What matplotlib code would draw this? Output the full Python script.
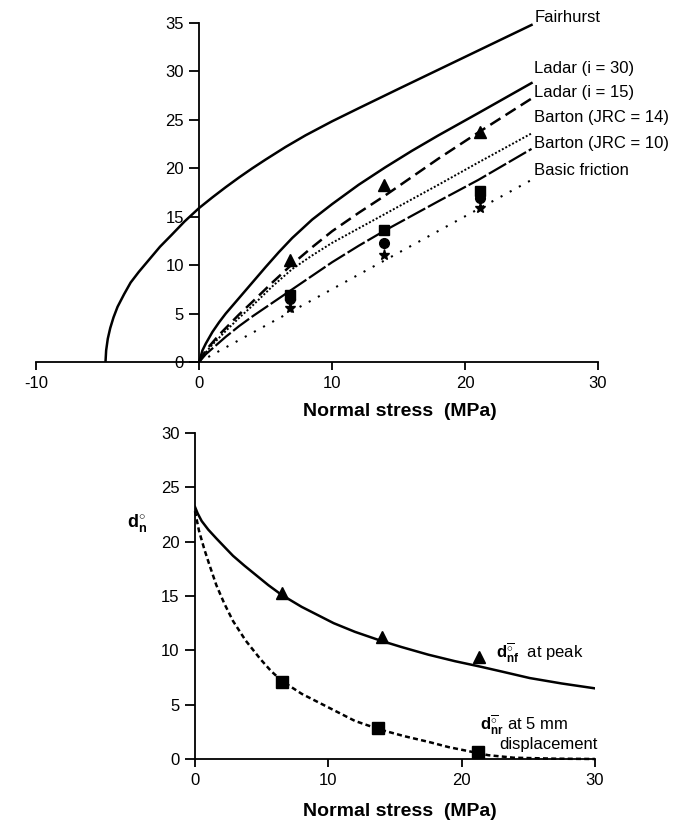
import numpy as np
import matplotlib
matplotlib.use('Agg')
import matplotlib.pyplot as plt

plt.rcParams['font.family'] = ['Liberation Sans', 'DejaVu Sans']
plt.rcParams['mathtext.fontset'] = 'custom'
plt.rcParams['mathtext.rm'] = 'Liberation Sans'
plt.rcParams['mathtext.bf'] = 'Liberation Sans:bold'
plt.rcParams['mathtext.it'] = 'Liberation Sans:italic'

# ---- top chart: shear strength vs normal stress ----
fair_x = [-5.74, -5.7, -5.6, -5.45, -5.25, -5.0, -4.6, -4.2, -3.7, -3.1, -2.4, -1.7, -0.9,
          0, 1, 2, 3, 4, 5, 6.5, 8, 10, 12, 15, 17.5, 20, 22.5, 25]
fair_y = [0, 1.2, 2.4, 3.5, 4.6, 5.7, 7.0, 8.2, 9.3, 10.5, 11.9, 13.1, 14.5,
          15.9, 17.0, 18.05, 19.05, 20.0, 20.9, 22.2, 23.4, 24.85, 26.2, 28.2, 29.85, 31.5, 33.15, 34.8]

lad30_x = [0, 0.25, 0.5, 1, 1.5, 2, 2.5, 3, 4, 5, 6, 7, 8.5, 10, 12, 14, 16, 18, 21, 25]
lad30_y = [0, 1.2, 1.9, 3.1, 4.1, 5.0, 5.8, 6.6, 8.2, 9.8, 11.35, 12.8, 14.7, 16.3, 18.3, 20.1, 21.8, 23.4, 25.7, 28.8]

lad15_x = [0, 0.5, 1, 1.5, 2, 3, 4, 5.5, 7, 8.5, 10, 12, 14, 16, 18, 21, 25]
lad15_y = [0, 1.2, 2.0, 2.8, 3.5, 4.9, 6.2, 8.2, 10.1, 11.85, 13.5, 15.4, 17.2, 19.1, 21.0, 23.7, 27.2]

jrc14_x = [0, 0.5, 1, 2, 3, 4, 5.5, 7, 8.5, 10, 12, 14, 18, 21, 25]
jrc14_y = [0, 1.0, 1.8, 3.2, 4.55, 5.8, 7.8, 9.6, 11.0, 12.3, 13.8, 15.3, 18.3, 20.6, 23.6]

jrc10_x = [0, 0.5, 1, 2, 3, 4, 5.5, 7, 8.5, 10, 12, 14, 18, 21, 25]
jrc10_y = [0, 0.8, 1.4, 2.6, 3.7, 4.7, 6.1, 7.5, 8.9, 10.3, 12.0, 13.6, 16.6, 18.8, 22.0]

basic_x = [0, 25]
basic_y = [0, 18.8]

pt_x = [6.8, 13.9, 21.1]
tri_top = [10.5, 18.3, 23.7]
sq_top = [6.9, 13.6, 17.7]
circ_top = [6.5, 12.3, 16.9]
star_top = [5.6, 11.0, 15.9]

top_labels = ['Fairhurst', 'Ladar (i = 30)', 'Ladar (i = 15)',
              'Barton (JRC = 14)', 'Barton (JRC = 10)', 'Basic friction']
top_label_y = [35.6, 30.3, 27.8, 25.2, 22.6, 19.8]

# ---- bottom chart: dilation angle vs normal stress ----
peak_x = [0, 0.2, 0.5, 1, 1.6, 2.3, 2.85, 3.7, 4.5, 5.5, 6.5, 8, 10.4, 12, 13.9,
          15.5, 17.5, 19.5, 21.4, 23, 25.1, 27.5, 30]
peak_y = [23.2, 22.6, 21.9, 21.1, 20.3, 19.4, 18.7, 17.8, 17.0, 16.0, 15.1, 14.0, 12.5, 11.7, 10.9,
          10.3, 9.6, 9.0, 8.5, 8.05, 7.45, 6.95, 6.5]

res_x = [0, 0.3, 0.7, 1.1, 1.6, 2.2, 2.85, 3.8, 4.9, 5.7, 6.5, 8, 10.4, 12, 13.9,
         15.7, 17.6, 19, 20.6, 22, 23.9, 27, 30]
res_y = [22.8, 21.0, 19.3, 17.8, 16.0, 14.3, 12.7, 10.9, 9.2, 8.1, 7.2, 6.0, 4.5, 3.5, 2.7,
         2.1, 1.55, 1.1, 0.7, 0.35, 0.12, 0.03, 0]

tri_x = [6.5, 14.0, 21.3]
tri_y = [15.3, 11.2, 9.4]
sq_x = [6.5, 13.7, 21.2]
sq_y = [7.1, 2.85, 0.65]


def fwd(x):
    x = np.asarray(x, dtype=float)
    return np.where(x < 0, x * 1.227, x)


def inv(x):
    x = np.asarray(x, dtype=float)
    return np.where(x < 0, x / 1.227, x)


W, H = 692, 824
fig = plt.figure(figsize=(W / 100, H / 100), dpi=100)

ax1 = fig.add_axes([36 / W, (H - 362) / H, 562 / W, 339 / H])
ax1.set_xscale('function', functions=(fwd, inv))
ax1.set_xlim(-10, 30)
ax1.set_ylim(0, 35)

ax1.plot(fair_x, fair_y, color='black', lw=1.8)
ax1.plot(lad30_x, lad30_y, color='black', lw=1.8)
ax1.plot(lad15_x, lad15_y, color='black', lw=1.8, linestyle=(0, (4.8, 2.4)))
ax1.plot(jrc14_x, jrc14_y, color='black', lw=1.4, linestyle=(0, (1, 1)))
ax1.plot(jrc10_x, jrc10_y, color='black', lw=1.6, linestyle=(0, (9, 1.4)))
ax1.plot(basic_x, basic_y, color='black', lw=1.5, linestyle=(0, (1, 4)))

ax1.plot(pt_x, tri_top, '^', color='black', ms=8, clip_on=False)
ax1.plot(pt_x, sq_top, 's', color='black', ms=7)
ax1.plot(pt_x, circ_top, 'o', color='black', ms=7)
ax1.plot(pt_x, star_top, '*', color='black', ms=8)

for lab, ly in zip(top_labels, top_label_y):
    ax1.text(25.2, ly, lab, fontsize=12, ha='left', va='center')

ax1.spines['top'].set_visible(False)
ax1.spines['right'].set_visible(False)
ax1.spines['left'].set_position(('data', 0))
ax1.spines['left'].set_linewidth(1.3)
ax1.spines['bottom'].set_linewidth(1.3)
ax1.set_xticks([-10, 0, 10, 20, 30])
ax1.set_xticklabels(['-10', '0', '10', '20', '30'])
ax1.set_yticks(range(0, 36, 5))
ax1.tick_params(direction='out', length=7, width=1.3, labelsize=12, pad=4)
ax1.tick_params(axis='x', length=6)

fig.text(400 / W, 1 - 411 / H, 'Normal stress  (MPa)', fontsize=14,
         fontweight='bold', ha='center', va='center')

ax2 = fig.add_axes([195 / W, (H - 759) / H, 400 / W, 326 / H])
ax2.set_xlim(0, 30)
ax2.set_ylim(0, 30)
ax2.plot(peak_x, peak_y, color='black', lw=1.8)
ax2.plot(res_x, res_y, color='black', lw=1.8, linestyle=(0, (2, 1.3)), clip_on=False)
ax2.plot(tri_x, tri_y, '^', color='black', ms=9)
ax2.plot(sq_x, sq_y, 's', color='black', ms=8, clip_on=False)

ax2.text(22.6, 9.7, r'$\mathbf{d}^{\overline{\circ}}_{\mathbf{nf}}$  at peak',
         fontsize=12, ha='left', va='center')
ax2.text(21.4, 2.65, r'$\mathbf{d}^{\overline{\circ}}_{\mathbf{nr}}$ at 5 mm',
         fontsize=12, ha='left', va='baseline')
ax2.text(22.8, 0.9, 'displacement', fontsize=12, ha='left', va='baseline')
ax2.text(-4.35, 21.7, r'$\mathbf{d}^{\circ}_{\mathbf{n}}$', fontsize=13,
         ha='center', va='center')

ax2.spines['top'].set_visible(False)
ax2.spines['right'].set_visible(False)
ax2.spines['left'].set_linewidth(1.3)
ax2.spines['bottom'].set_linewidth(1.3)
ax2.set_xticks([0, 10, 20, 30])
ax2.set_yticks(range(0, 31, 5))
ax2.tick_params(direction='out', length=7, width=1.3, labelsize=12, pad=4)
ax2.tick_params(axis='x', length=6)

fig.text(400 / W, 1 - 812 / H, 'Normal stress  (MPa)', fontsize=14,
         fontweight='bold', ha='center', va='center')

fig.savefig('out.png', dpi=100)
